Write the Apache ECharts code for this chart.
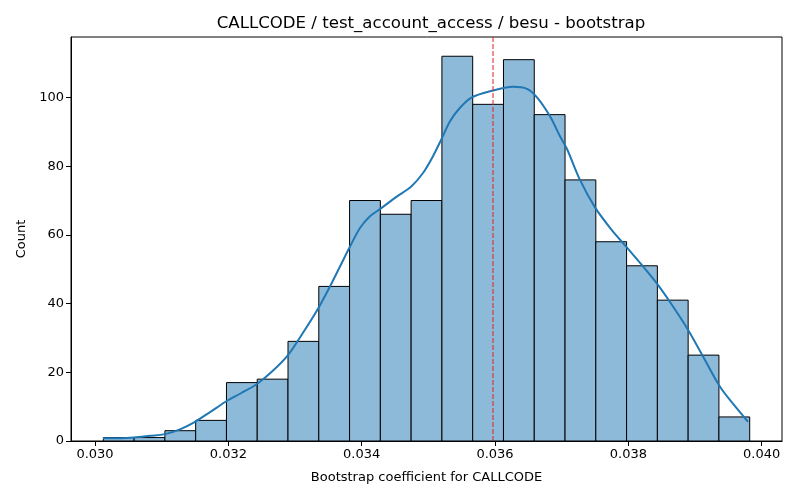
<!DOCTYPE html>
<html>
<head>
<meta charset="utf-8">
<title>CALLCODE bootstrap</title>
<script src="https://cdn.jsdelivr.net/npm/echarts@6/dist/echarts.min.js"></script>
<style>
  html, body { margin: 0; padding: 0; background: #fff; }
  #main { width: 800px; height: 500px; }
</style>
</head>
<body>
<div id="main"></div>
<script>
// histogram bins (21 bins, equal width)
var binStart = 0.030125;
var binWidth = 0.0004617;
var counts = [1, 1, 3, 6, 17, 18, 29, 45, 70, 66, 70, 112, 98, 111, 95, 76, 58, 51, 41, 25, 7];

// kde curve
var kdeX = [0.03012, 0.030375, 0.030585, 0.030825, 0.03105, 0.031275, 0.0315, 0.031725,
            0.031965, 0.03219, 0.03243, 0.032655, 0.032895, 0.03312, 0.033345, 0.033525,
            0.033675, 0.033825, 0.033975, 0.034125, 0.034275, 0.034515, 0.03474, 0.03492,
            0.03507, 0.035205, 0.035325, 0.035475, 0.03564, 0.035925, 0.03627, 0.03648,
            0.03663, 0.036825, 0.036975, 0.03708, 0.037275, 0.0375, 0.03774, 0.03798,
            0.038205, 0.03843, 0.038655, 0.038895, 0.039135, 0.039375, 0.039585, 0.039795];
var kdeY = [0.8, 0.8, 1.0, 1.5, 2.0, 3.4, 5.6, 8.4,
            11.5, 13.9, 16.6, 20.2, 25.0, 31.5, 38.5, 45,
            50.8, 56.6, 62, 65.4, 67.5, 71, 74, 78,
            82.9, 88.2, 93.1, 97, 99.9, 101.8, 103.1, 102.5,
            100, 94.5, 88.7, 85, 76, 68, 61.7, 56.3,
            51.2, 45.8, 39.6, 32.4, 24.1, 15.8, 10.5, 5.6];

var meanLine = 0.03597;
var xTicks = [0.030, 0.032, 0.034, 0.036, 0.038, 0.040];
var yTicks = [0, 20, 40, 60, 80, 100];

var yMax = 117.6;
var bins = [];
for (var i = 0; i < counts.length; i++) {
    bins.push([binStart + i * binWidth, binStart + (i + 1) * binWidth, counts[i]]);
}
var kde = [];
for (var j = 0; j < kdeX.length; j++) {
    kde.push([kdeX[j], kdeY[j]]);
}

var font = 'DejaVu Sans';
var myChart = echarts.init(document.getElementById('main'));
var option = {
    animation: false,
    title: {
        text: 'CALLCODE / test_account_access / besu - bootstrap',
        left: 426,
        textAlign: 'center',
        top: 10,
        textStyle: { fontFamily: font, fontSize: 16.6, fontWeight: 'normal', color: '#000' }
    },
    grid: {
        left: 71, right: 18, top: 37, bottom: 59,
        show: true, borderColor: '#000', borderWidth: 1, backgroundColor: 'transparent'
    },
    xAxis: {
        type: 'value',
        min: 0.02964,
        max: 0.040305,
        name: 'Bootstrap coefficient for CALLCODE',
        nameLocation: 'middle',
        nameGap: 30,
        nameTextStyle: { fontFamily: font, fontSize: 13, color: '#000' },
        splitLine: { show: false },
        axisLine: { show: true, lineStyle: { color: '#000' } },
        axisTick: { show: true, length: 5, lineStyle: { color: '#000' }, customValues: xTicks },
        axisLabel: {
            fontFamily: font, fontSize: 13, color: '#000', margin: 7,
            customValues: xTicks,
            formatter: function (v) { return v.toFixed(3); }
        }
    },
    yAxis: {
        type: 'value',
        min: 0,
        max: yMax,
        name: 'Count',
        nameLocation: 'middle',
        nameGap: 42,
        nameTextStyle: { fontFamily: font, fontSize: 13, color: '#000' },
        splitLine: { show: false },
        axisLine: { show: true, lineStyle: { color: '#000' } },
        axisTick: { show: true, length: 5, lineStyle: { color: '#000' }, customValues: yTicks },
        axisLabel: { fontFamily: font, fontSize: 13, color: '#000', margin: 7, customValues: yTicks }
    },
    series: [
        {
            type: 'custom',
            data: bins,
            encode: { x: [0, 1], y: 2 },
            renderItem: function (params, api) {
                var p0 = api.coord([api.value(0), api.value(2)]);
                var p1 = api.coord([api.value(1), 0]);
                return {
                    type: 'rect',
                    shape: { x: p0[0], y: p0[1], width: p1[0] - p0[0], height: p1[1] - p0[1] },
                    style: { fill: '#8ebad9', stroke: '#000', lineWidth: 1 }
                };
            },
            z: 2
        },
        {
            type: 'line',
            data: kde,
            smooth: 0.3,
            showSymbol: false,
            lineStyle: { color: '#1f77b4', width: 2 },
            itemStyle: { color: '#1f77b4' },
            z: 3
        },
        {
            type: 'line',
            data: [[meanLine, 0], [meanLine, yMax]],
            showSymbol: false,
            lineStyle: { color: '#e02020', width: 1, type: [5, 2] },
            itemStyle: { color: '#e02020' },
            z: 4
        }
    ]
};
myChart.setOption(option);
</script>
</body>
</html>
